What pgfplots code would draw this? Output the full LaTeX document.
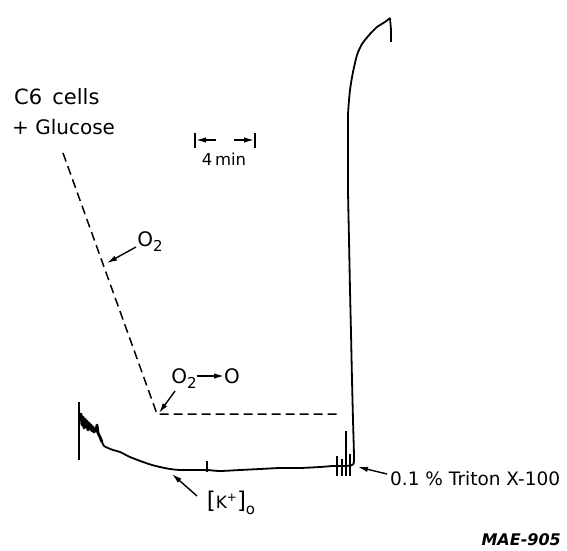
\documentclass[border=0pt]{standalone}
\usepackage{pgfplots}
\pgfplotsset{compat=1.18}
\usepackage{fontspec}
\setmainfont{DejaVu Sans}
\usetikzlibrary{arrows.meta}
\tikzset{arr/.style={line width=1.4bp, -{Latex[length=10bp,width=5.5bp]}},
  lbl/.style={font=\fontsize{20bp}{23bp}\selectfont, inner sep=0pt}}
\newcommand\sub[1]{\raisebox{-0.45ex}{\fontsize{15bp}{17bp}\selectfont #1}}
\begin{document}
\begin{tikzpicture}
\begin{axis}[x=1bp, y=1bp, xmin=0, xmax=567, ymin=0, ymax=551, y dir=reverse,
  hide axis, clip=false, enlargelimits=false]
% O2 trace (dashed)
\addplot[black, line width=1.5bp, dash pattern=on 9bp off 5bp] coordinates {(63,153) (157,414) (337,414)};
% noisy start of the [K+]o trace
\addplot[black, line width=2.8bp, line join=round] coordinates {
(80,419)(81,414)(82,425)(83,417)(84,428)(85,419)(86,427)(87,421)(88,430)(89,423)(90,429)(91,425)(92,431)(93,427)(94,432)(95,429)(96,431)(97,425)(98,433)(100,437)(102,442)};
% [K+]o trace (solid)
\addplot[black, line width=1.8bp, line join=round, smooth, tension=0.4] coordinates {
(102,442)(104,446)(108,448)(113,450)(120,452)(130,457)(143,462)(152,465)(160,467)(170,469)(180,470)(195,470)(207,470)(220,471)(240,470)(260,469)(280,468)(300,468)(320,467)(333,466)(345,466)(352,465)(354,460)
(353,420)(352,380)(351,333)(350,290)(349,240)(348,190)(348,150)(348,115)(350,90)(353,72)(357,55)(362,44)(370,34)(377,27)(385,22)(390,18)};
\addplot[black, line width=1.8bp] coordinates {(390,18)(391,30)(391,42)};
% start marker and event marks
\addplot[black, line width=1.5bp] coordinates {(79,402)(79,460)};
\addplot[black, line width=1.3bp] coordinates {(207,461)(207,472)};
\addplot[black, line width=1.5bp] coordinates {(337,456)(337,476)};
\addplot[black, line width=1.5bp] coordinates {(342,459)(342,476)};
\addplot[black, line width=1.5bp] coordinates {(346,431)(346,476)};
\addplot[black, line width=1.5bp] coordinates {(350,454)(350,476)};
% 4 min scale
\addplot[black, line width=1.5bp] coordinates {(195,133)(195,148)};
\addplot[black, line width=1.5bp] coordinates {(255,133)(255,148)};
\draw[arr] (axis cs:216,140) -- (axis cs:196,140);
\draw[arr] (axis cs:234,140) -- (axis cs:254,140);
\node[lbl, font=\fontsize{16.5bp}{18bp}\selectfont] at (axis cs:224,159) {4\,min};
% labels
\node[lbl, anchor=west, font=\fontsize{21bp}{23bp}\selectfont] at (axis cs:14,97) {C6 \,cells};
\node[lbl, anchor=west] at (axis cs:12,127) {+ Glucose};
\node[lbl] at (axis cs:150,242) {O\sub{2}};
\draw[arr] (axis cs:136,247) -- (axis cs:107,263);
\node[lbl] at (axis cs:184,379) {O\sub{2}};
\draw[arr] (axis cs:197,376) -- (axis cs:224,376);
\node[lbl] at (axis cs:232,376) {O};
\draw[arr] (axis cs:175,391) -- (axis cs:159,413);
\draw[arr] (axis cs:197,496) -- (axis cs:172,474);
\node[lbl, font=\fontsize{17bp}{19bp}\selectfont] at (axis cs:231,503) {{\fontsize{23bp}{25bp}\selectfont[}K\raisebox{0.8ex}{\fontsize{12bp}{14bp}\selectfont +}{\fontsize{23bp}{25bp}\selectfont]}\raisebox{-0.6ex}{\fontsize{15bp}{17bp}\selectfont o}};
\draw[arr] (axis cs:387,474) -- (axis cs:358,467);
\node[lbl, anchor=west, font=\fontsize{18.5bp}{21bp}\selectfont] at (axis cs:390,479) {0.1 \% Triton X-100};
\node[lbl, anchor=south east, font=\fontsize{16bp}{17bp}\selectfont\bfseries\itshape] at (axis cs:561,546) {MAE-905};
\coordinate (bl) at (axis cs:0,551);
\coordinate (tr) at (axis cs:567,0);
\end{axis}
\pgfresetboundingbox
\useasboundingbox (bl) rectangle (tr);
\end{tikzpicture}
\end{document}
